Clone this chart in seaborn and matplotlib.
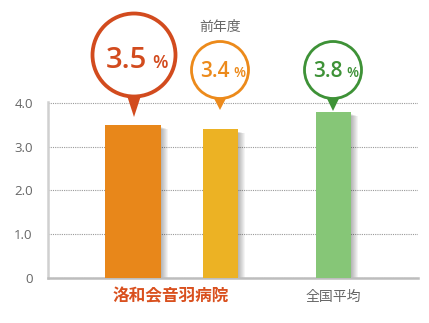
import matplotlib
matplotlib.use("Agg")
import matplotlib.pyplot as plt
import seaborn as sns
import pandas as pd
from matplotlib.patches import Rectangle, Circle, Polygon

# ---- data ----
categories = ["洛和会音羽病院", "前年度", "全国平均"]
values = [3.5, 3.4, 3.8]
value_labels = ["3.5", "3.4", "3.8"]
yticks = [0, 1, 2, 3, 4]
ytick_labels = ["0", "1.0", "2.0", "3.0", "4.0"]
xlabel_main = "洛和会音羽病院"
xlabel_avg = "全国平均"
prev_label = "前年度"

# ---- style / layout ----
bar_colors = ["#E8871A", "#ECB224", "#86C677"]
bubble_colors = ["#D24B1E", "#EC8A1B", "#3E9237"]
bar_centers = [133, 220.5, 333.5]     # pixel-based x layout
bar_widths = [56, 35, 35]

sns.set_theme(style="white")
plt.rcParams["font.family"] = ["Noto Sans CJK JP", "DejaVu Sans"]

W, H = 429, 323
fig = plt.figure(figsize=(W / 100, H / 100), dpi=100)
ax_h = 175.9
ax = fig.add_axes([48 / W, 45 / H, 370 / W, ax_h / H])

df = pd.DataFrame({"pos": bar_centers, "val": values, "cat": categories})
sns.barplot(data=df, x="pos", y="val", hue="cat", palette=bar_colors,
            native_scale=True, dodge=False, legend=False, ax=ax,
            saturation=1, zorder=3)

ax.set_xlim(48, 418)
ax.set_ylim(0, 4.02)
px_y = 4.02 / ax_h

# fix bar geometry and add soft shadows
for p, c, w in zip(ax.patches[:3], bar_centers, bar_widths):
    p.set_x(c - w / 2)
    p.set_width(w)
    p.set_edgecolor("none")
    h = p.get_height()
    for k in range(1, 8):
        ax.add_patch(Rectangle((c - w / 2 + k, 0), w, h - 2 * px_y - k * 0.3 * px_y,
                               facecolor="#000000", alpha=0.045,
                               edgecolor="none", zorder=2))

ax.set_yticks(yticks)
ax.set_yticklabels(ytick_labels, color="#666666", fontsize=9.5, family="Open Sans")
ax.tick_params(axis="y", length=0, pad=11)
ax.set_xticks([])
ax.set_xlabel("")
ax.set_ylabel("")
ax.grid(axis="y", linestyle=(0, (1, 1)), color="#9a9a9a", linewidth=0.8, zorder=1)
ax.set_axisbelow(True)
for s in ["top", "right"]:
    ax.spines[s].set_visible(False)
ax.spines["left"].set_color("#d0d0d0")
ax.spines["left"].set_linewidth(1.8)
ax.spines["bottom"].set_color("#bdbdbd")
ax.spines["bottom"].set_linewidth(1.8)

# ---- overlay in pixel coords for bubbles and labels ----
ov = fig.add_axes([0, 0, 1, 1], facecolor="none")
ov.set_xlim(0, W)
ov.set_ylim(H, 0)
ov.axis("off")

bubbles = [
    # cx, cy, r, lw, tip_y, num_right, pct_left, baseline, numsize, pctsize
    (134, 55, 41.5, 3.8, 117, 147, 152, 68, 21, 13),
    (220, 70, 28.5, 2.8, 110, 230, 233, 77, 15, 10),
    (333, 70, 28.5, 2.8, 111, 343, 346, 77, 15, 10),
]
for (cx, cy, r, lw, tip, nr, pl, bl, ns, ps), col, lab in zip(bubbles, bubble_colors, value_labels):
    ov.add_patch(Polygon([(cx - 8, cy + r - 4), (cx + 8, cy + r - 4), (cx, tip)],
                         closed=True, facecolor=col, edgecolor="none", zorder=5))
    ov.add_patch(Circle((cx, cy), r, facecolor="white", edgecolor=col,
                        linewidth=lw * 0.72, zorder=6))
    ov.text(nr, bl, lab, ha="right", va="baseline", color=col, fontsize=ns,
            fontweight="semibold", family="Open Sans", zorder=7)
    ov.text(pl, bl, "%", ha="left", va="baseline", color=col, fontsize=ps,
            fontweight="semibold", family="Open Sans", zorder=7)

ov.text(220, 27, prev_label, ha="center", va="center", color="#666666", fontsize=10)
ov.text(171, 296, xlabel_main, ha="center", va="center", color="#D9501E",
        fontsize=12, fontweight="bold")
ov.text(333.5, 297, xlabel_avg, ha="center", va="center", color="#666666", fontsize=10)

fig.savefig("out.png", dpi=100)
